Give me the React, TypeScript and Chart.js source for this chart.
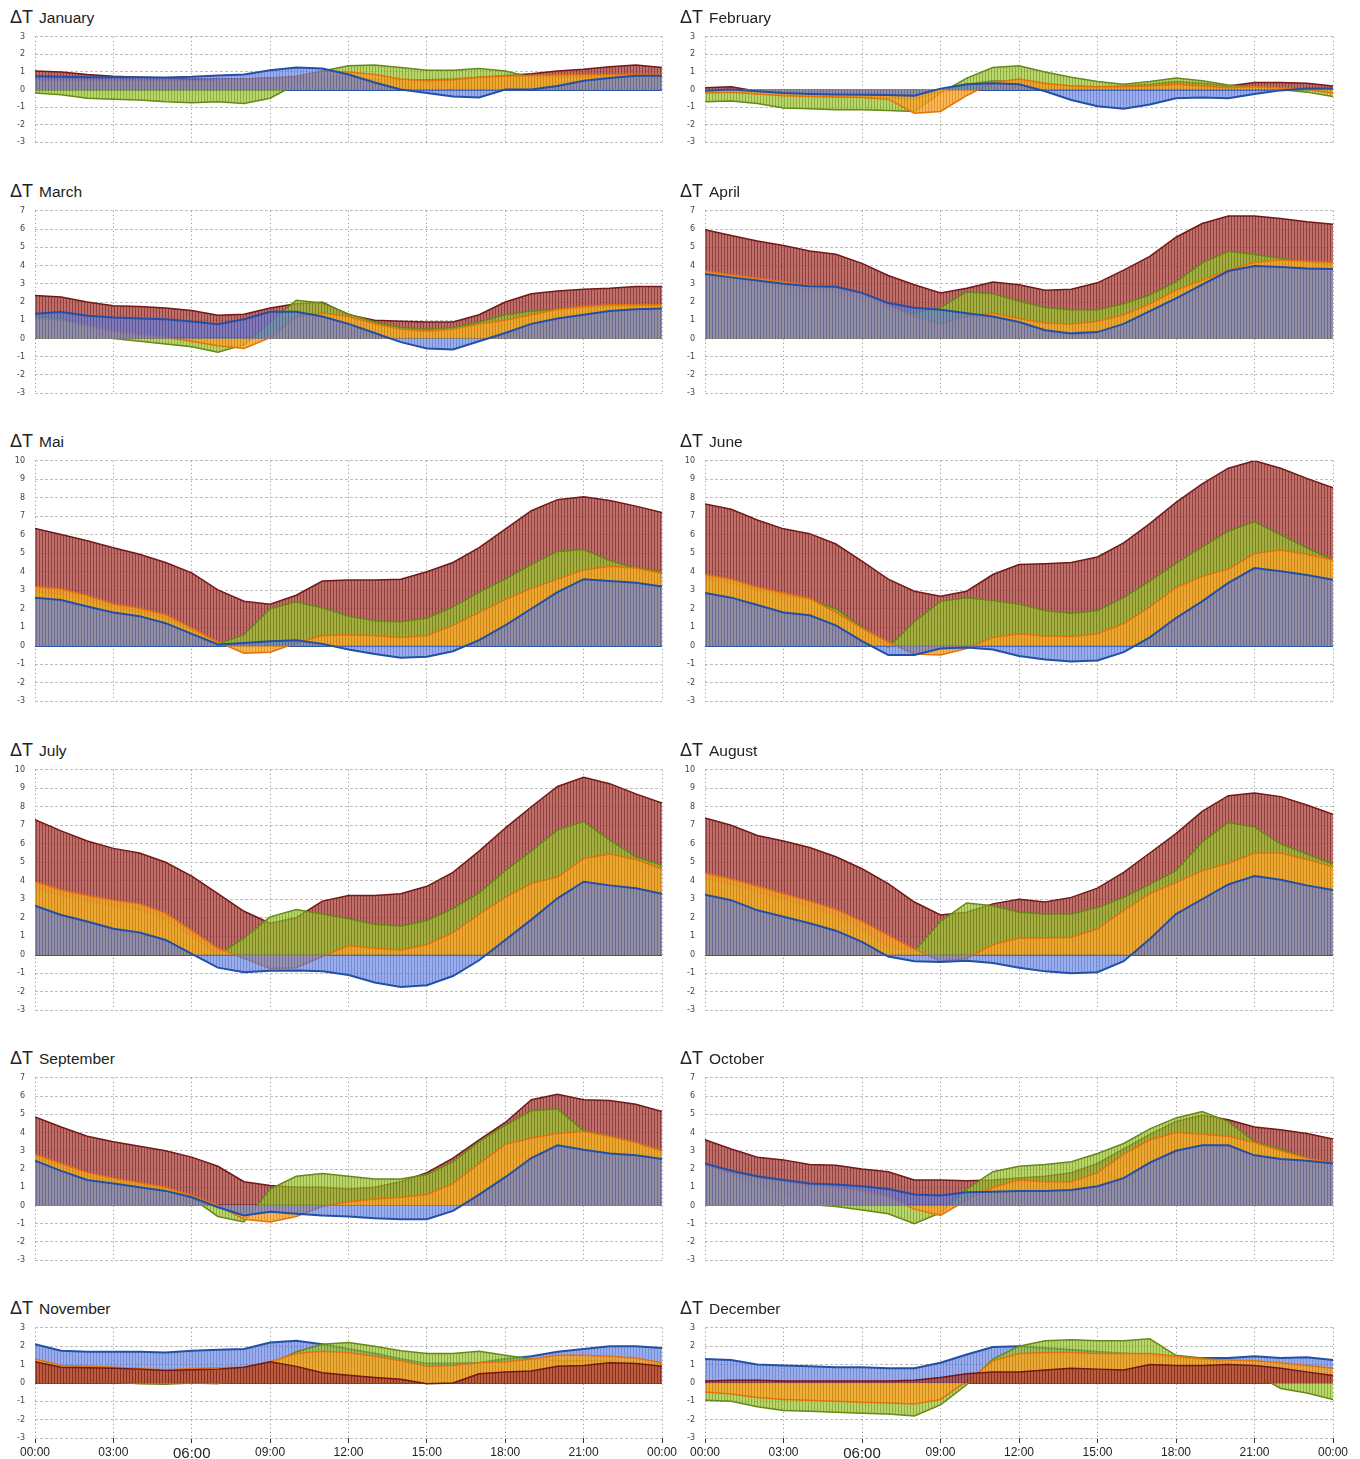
import React, { useEffect, useRef } from "react";
import { Chart, registerables } from "chart.js";

Chart.register(...registerables);

// ---------------- DATA ----------------
const HOURS = [0, 1, 2, 3, 4, 5, 6, 7, 8, 9, 10, 11, 12, 13, 14, 15, 16, 17, 18, 19, 20, 21, 22, 23, 24];
const X_TICK_LABELS = ["00:00", "03:00", "06:00", "09:00", "12:00", "15:00", "18:00", "21:00", "00:00"];
const MONTHS = ["January", "February", "March", "April", "Mai", "June", "July", "August", "September", "October", "November", "December"];
const Y_MAX = [3, 3, 7, 7, 10, 10, 10, 10, 7, 7, 3, 3];
const Y_MIN = -3;

const JAN_RED = [1.05, 1.0, 0.85, 0.75, 0.7, 0.65, 0.6, 0.6, 0.6, 0.65, 0.7, 0.75, 0.7, 0.6, 0.55, 0.55, 0.6, 0.7, 0.8, 0.9, 1.05, 1.15, 1.3, 1.4, 1.25];
const JAN_GREEN = [-0.2, -0.3, -0.5, -0.55, -0.6, -0.7, -0.75, -0.7, -0.8, -0.5, 0.3, 1.05, 1.35, 1.4, 1.25, 1.1, 1.1, 1.2, 1.05, 0.7, 0.7, 0.7, 0.7, 0.7, 0.7];
const JAN_ORANGE = [0.55, 0.5, 0.5, 0.5, 0.5, 0.5, 0.5, 0.55, 0.6, 0.65, 0.75, 1.05, 1.0, 0.85, 0.6, 0.5, 0.55, 0.7, 0.75, 0.8, 0.82, 0.84, 0.85, 0.85, 0.85];
const JAN_BLUE = [0.75, 0.72, 0.7, 0.7, 0.7, 0.68, 0.72, 0.8, 0.85, 1.1, 1.25, 1.2, 0.85, 0.4, 0.0, -0.2, -0.4, -0.45, 0.0, 0.0, 0.2, 0.5, 0.65, 0.78, 0.78];

const FEB_RED = [0.1, 0.15, -0.1, -0.3, -0.38, -0.4, -0.43, -0.45, -0.55, -0.1, 0.3, 0.5, 0.5, 0.3, 0.2, 0.15, 0.2, 0.3, 0.45, 0.35, 0.2, 0.4, 0.4, 0.35, 0.2];
const FEB_GREEN = [-0.7, -0.65, -0.8, -1.05, -1.1, -1.15, -1.15, -1.2, -1.25, -0.2, 0.65, 1.25, 1.35, 1.0, 0.7, 0.45, 0.3, 0.45, 0.65, 0.5, 0.25, 0.15, 0.0, -0.15, -0.4];
const FEB_ORANGE = [-0.2, -0.15, -0.25, -0.35, -0.4, -0.42, -0.45, -0.55, -1.35, -1.25, -0.35, 0.4, 0.6, 0.35, 0.2, 0.15, 0.15, 0.2, 0.3, 0.2, 0.1, 0.15, 0.1, 0.0, -0.2];
const FEB_BLUE = [-0.07, 0.0, -0.1, -0.2, -0.25, -0.28, -0.3, -0.32, -0.35, 0.05, 0.3, 0.35, 0.3, -0.1, -0.6, -0.95, -1.1, -0.85, -0.5, -0.45, -0.5, -0.25, -0.05, 0.05, 0.05];

const MAR_RED = [2.36, 2.28, 2.0, 1.8, 1.75, 1.67, 1.53, 1.28, 1.33, 1.67, 1.9, 1.98, 1.3, 1.0, 0.95, 0.9, 0.9, 1.3, 2.0, 2.45, 2.6, 2.7, 2.75, 2.85, 2.85];
const MAR_GREEN = [1.2, 1.1, 0.6, 0.0, -0.15, -0.3, -0.45, -0.75, -0.35, 0.9, 2.1, 1.95, 1.35, 0.9, 0.6, 0.5, 0.6, 0.9, 1.3, 1.5, 1.6, 1.7, 1.75, 1.8, 1.8];
const MAR_ORANGE = [1.1, 1.0, 0.7, 0.4, 0.2, 0.05, -0.15, -0.4, -0.55, 0.05, 1.2, 1.4, 1.2, 0.8, 0.5, 0.4, 0.5, 0.8, 1.0, 1.3, 1.6, 1.75, 1.85, 1.85, 1.85];
const MAR_BLUE = [1.36, 1.45, 1.24, 1.15, 1.1, 1.05, 0.93, 0.78, 1.05, 1.47, 1.47, 1.2, 0.8, 0.3, -0.2, -0.55, -0.6, -0.15, 0.3, 0.8, 1.1, 1.3, 1.5, 1.6, 1.65];

const APR_RED = [5.96, 5.65, 5.35, 5.1, 4.8, 4.62, 4.12, 3.45, 2.95, 2.5, 2.75, 3.1, 2.95, 2.65, 2.7, 3.05, 3.75, 4.5, 5.55, 6.3, 6.72, 6.72, 6.58, 6.4, 6.26];
const APR_GREEN = [3.4, 3.2, 3.0, 2.8, 2.6, 2.5, 2.2, 1.6, 1.4, 1.7, 2.55, 2.45, 2.05, 1.7, 1.58, 1.58, 1.9, 2.4, 3.1, 4.15, 4.78, 4.6, 4.4, 4.2, 4.0];
const APR_ORANGE = [3.7, 3.5, 3.3, 3.1, 2.9, 2.8, 2.45, 1.8, 1.2, 0.8, 1.2, 1.4, 1.1, 0.85, 0.8, 0.95, 1.3, 1.9, 2.65, 3.2, 3.75, 4.18, 4.3, 4.23, 4.17];
const APR_BLUE = [3.54, 3.35, 3.18, 3.0, 2.86, 2.83, 2.5, 1.95, 1.68, 1.58, 1.38, 1.2, 0.9, 0.45, 0.28, 0.35, 0.8, 1.5, 2.2, 2.95, 3.7, 3.97, 3.92, 3.83, 3.81];

const MAY_RED = [6.34, 6.02, 5.68, 5.3, 4.95, 4.5, 3.94, 3.02, 2.41, 2.24, 2.73, 3.5, 3.55, 3.55, 3.6, 4.0, 4.5, 5.3, 6.3, 7.3, 7.9, 8.05, 7.85, 7.55, 7.2];
const MAY_GREEN = [2.9, 2.8, 2.45, 2.05, 1.85, 1.5, 0.85, 0.1, 0.6, 2.0, 2.37, 2.05, 1.6, 1.35, 1.3, 1.5, 2.1, 2.9, 3.6, 4.4, 5.1, 5.2, 4.6, 4.2, 4.0];
const MAY_ORANGE = [3.2, 3.07, 2.72, 2.26, 2.03, 1.68, 0.95, 0.2, -0.4, -0.35, 0.15, 0.55, 0.6, 0.55, 0.45, 0.55, 1.1, 1.8, 2.5, 3.1, 3.6, 4.1, 4.3, 4.2, 3.9];
const MAY_BLUE = [2.6, 2.47, 2.12, 1.8, 1.6, 1.22, 0.64, 0.07, 0.15, 0.24, 0.3, 0.1, -0.2, -0.45, -0.65, -0.6, -0.3, 0.3, 1.1, 2.0, 2.9, 3.6, 3.5, 3.4, 3.2];

const JUN_RED = [7.67, 7.38, 6.8, 6.32, 6.06, 5.5, 4.57, 3.6, 2.95, 2.68, 2.95, 3.85, 4.39, 4.43, 4.5, 4.8, 5.56, 6.6, 7.75, 8.75, 9.6, 10.0, 9.6, 9.05, 8.54];
const JUN_GREEN = [3.6, 3.4, 3.0, 2.7, 2.5, 2.0, 1.0, -0.1, 1.3, 2.4, 2.6, 2.45, 2.25, 1.9, 1.75, 1.9, 2.6, 3.5, 4.45, 5.35, 6.2, 6.7, 6.0, 5.3, 4.63];
const JUN_ORANGE = [3.85, 3.6, 3.16, 2.85, 2.55, 1.8, 0.95, 0.2, -0.45, -0.5, -0.15, 0.45, 0.65, 0.52, 0.5, 0.65, 1.2, 2.1, 3.15, 3.75, 4.15, 4.98, 5.18, 4.95, 4.63];
const JUN_BLUE = [2.85, 2.6, 2.2, 1.8, 1.65, 1.1, 0.25, -0.5, -0.5, -0.15, -0.1, -0.2, -0.55, -0.75, -0.85, -0.8, -0.35, 0.45, 1.5, 2.4, 3.4, 4.2, 4.03, 3.83, 3.56];

const JUL_RED = [7.3, 6.7, 6.15, 5.75, 5.5, 5.0, 4.25, 3.3, 2.35, 1.7, 2.0, 2.9, 3.2, 3.2, 3.3, 3.7, 4.45, 5.6, 6.85, 8.0, 9.1, 9.6, 9.25, 8.7, 8.2];
const JUL_GREEN = [3.6, 3.2, 2.9, 2.65, 2.45, 1.9, 1.0, 0.0, 0.9, 2.05, 2.45, 2.2, 1.95, 1.65, 1.55, 1.85, 2.5, 3.35, 4.55, 5.6, 6.75, 7.2, 6.2, 5.3, 4.85];
const JUL_ORANGE = [3.95, 3.5, 3.2, 2.95, 2.75, 2.25, 1.3, 0.35, -0.2, -0.75, -0.7, -0.1, 0.5, 0.35, 0.25, 0.55, 1.2, 2.2, 3.1, 3.85, 4.2, 5.2, 5.45, 5.15, 4.65];
const JUL_BLUE = [2.65, 2.15, 1.8, 1.4, 1.2, 0.8, 0.05, -0.7, -0.95, -0.87, -0.85, -0.9, -1.1, -1.5, -1.75, -1.65, -1.15, -0.3, 0.8, 1.9, 3.05, 3.95, 3.75, 3.6, 3.3];

const AUG_RED = [7.4, 7.0, 6.45, 6.15, 5.8, 5.3, 4.65, 3.85, 2.85, 2.15, 2.3, 2.75, 3.0, 2.85, 3.1, 3.6, 4.45, 5.5, 6.55, 7.75, 8.6, 8.75, 8.55, 8.1, 7.6];
const AUG_GREEN = [4.1, 3.8, 3.4, 3.0, 2.6, 2.1, 1.4, 0.4, 0.2, 1.8, 2.8, 2.65, 2.3, 2.2, 2.2, 2.55, 3.1, 3.8, 4.55, 6.1, 7.15, 6.9, 6.0, 5.45, 4.9];
const AUG_ORANGE = [4.4, 4.1, 3.7, 3.3, 2.9, 2.45, 1.8, 1.05, 0.3, -0.35, -0.2, 0.55, 0.9, 0.9, 0.95, 1.4, 2.4, 3.3, 3.9, 4.55, 4.95, 5.5, 5.5, 5.15, 4.75];
const AUG_BLUE = [3.25, 2.95, 2.4, 2.05, 1.7, 1.3, 0.7, -0.1, -0.35, -0.4, -0.33, -0.45, -0.7, -0.9, -1.0, -0.95, -0.35, 0.85, 2.2, 3.0, 3.8, 4.25, 4.05, 3.75, 3.5];

const SEP_RED = [4.85, 4.3, 3.8, 3.5, 3.25, 3.0, 2.65, 2.15, 1.3, 1.1, 1.0, 1.0, 0.9, 1.0, 1.3, 1.8, 2.6, 3.6, 4.55, 5.8, 6.1, 5.8, 5.75, 5.55, 5.15];
const SEP_GREEN = [2.6, 2.1, 1.6, 1.3, 1.1, 0.9, 0.4, -0.6, -0.9, 0.9, 1.6, 1.75, 1.6, 1.45, 1.45, 1.7, 2.4, 3.5, 4.4, 5.2, 5.3, 4.1, 3.8, 3.4, 2.9];
const SEP_ORANGE = [2.8, 2.3, 1.8, 1.5, 1.25, 1.0, 0.55, 0.0, -0.75, -0.9, -0.6, -0.05, 0.2, 0.35, 0.45, 0.6, 1.2, 2.3, 3.35, 3.7, 3.95, 4.05, 3.8, 3.45, 3.0];
const SEP_BLUE = [2.45, 1.9, 1.4, 1.2, 1.0, 0.8, 0.45, -0.1, -0.55, -0.35, -0.45, -0.55, -0.6, -0.7, -0.75, -0.75, -0.3, 0.6, 1.55, 2.6, 3.3, 3.05, 2.85, 2.75, 2.55];

const OCT_RED = [3.6, 3.1, 2.65, 2.5, 2.25, 2.2, 2.0, 1.85, 1.4, 1.4, 1.35, 1.4, 1.5, 1.6, 1.8, 2.3, 3.1, 3.9, 4.6, 4.95, 4.7, 4.3, 4.15, 3.95, 3.65];
const OCT_GREEN = [2.2, 1.7, 1.2, 0.7, 0.05, -0.05, -0.25, -0.45, -1.0, -0.4, 0.9, 1.85, 2.15, 2.25, 2.4, 2.85, 3.4, 4.2, 4.8, 5.15, 4.6, 3.5, 3.1, 2.6, 2.3];
const OCT_ORANGE = [2.2, 1.8, 1.5, 1.3, 1.1, 1.0, 0.8, 0.5, -0.2, -0.55, 0.3, 1.0, 1.4, 1.3, 1.3, 1.8, 2.8, 3.6, 4.0, 3.9, 3.8, 3.45, 3.0, 2.6, 2.3];
const OCT_BLUE = [2.3, 1.9, 1.6, 1.4, 1.2, 1.15, 1.05, 0.9, 0.6, 0.55, 0.72, 0.75, 0.8, 0.8, 0.85, 1.05, 1.5, 2.35, 3.0, 3.3, 3.3, 2.75, 2.55, 2.45, 2.3];

const NOV_RED = [1.15, 0.85, 0.82, 0.8, 0.75, 0.68, 0.72, 0.75, 0.85, 1.15, 0.9, 0.55, 0.42, 0.3, 0.2, -0.05, 0.0, 0.5, 0.6, 0.65, 0.9, 0.95, 1.1, 1.05, 0.9];
const NOV_GREEN = [0.9, 0.4, 0.2, 0.05, -0.05, -0.08, 0.0, -0.05, 0.3, 1.0, 1.7, 2.1, 2.2, 2.0, 1.75, 1.6, 1.6, 1.72, 1.5, 1.3, 1.2, 1.2, 1.2, 1.1, 1.0];
const NOV_ORANGE = [1.3, 0.95, 0.9, 0.85, 0.78, 0.7, 0.78, 0.82, 0.85, 1.15, 1.6, 1.72, 1.65, 1.45, 1.2, 0.9, 0.95, 1.1, 1.15, 1.3, 1.5, 1.5, 1.45, 1.35, 1.1];
const NOV_BLUE = [2.1, 1.75, 1.7, 1.7, 1.7, 1.65, 1.75, 1.8, 1.85, 2.2, 2.3, 2.1, 1.85, 1.6, 1.3, 1.05, 1.05, 1.1, 1.3, 1.45, 1.7, 1.85, 2.0, 2.0, 1.9];

const DEC_RED = [0.1, 0.15, 0.15, 0.1, 0.1, 0.1, 0.1, 0.1, 0.15, 0.3, 0.5, 0.6, 0.6, 0.7, 0.8, 0.75, 0.7, 1.0, 0.95, 0.95, 1.0, 0.95, 0.8, 0.6, 0.4];
const DEC_GREEN = [-0.95, -1.0, -1.3, -1.5, -1.55, -1.6, -1.65, -1.7, -1.8, -1.2, -0.1, 1.3, 2.0, 2.3, 2.35, 2.3, 2.3, 2.4, 1.5, 1.35, 1.05, 0.5, -0.3, -0.55, -0.9];
const DEC_ORANGE = [-0.5, -0.6, -0.8, -0.9, -0.95, -1.0, -1.05, -1.1, -1.15, -0.9, 0.1, 1.2, 1.6, 1.65, 1.65, 1.6, 1.6, 1.6, 1.45, 1.3, 1.25, 1.2, 1.1, 0.95, 0.8];
const DEC_BLUE = [1.3, 1.25, 1.0, 0.95, 0.9, 0.85, 0.85, 0.8, 0.8, 1.1, 1.55, 1.95, 2.0, 1.9, 1.8, 1.7, 1.6, 1.5, 1.35, 1.35, 1.35, 1.45, 1.35, 1.4, 1.25];

const SERIES_RED = [JAN_RED, FEB_RED, MAR_RED, APR_RED, MAY_RED, JUN_RED, JUL_RED, AUG_RED, SEP_RED, OCT_RED, NOV_RED, DEC_RED];
const SERIES_GREEN = [JAN_GREEN, FEB_GREEN, MAR_GREEN, APR_GREEN, MAY_GREEN, JUN_GREEN, JUL_GREEN, AUG_GREEN, SEP_GREEN, OCT_GREEN, NOV_GREEN, DEC_GREEN];
const SERIES_ORANGE = [JAN_ORANGE, FEB_ORANGE, MAR_ORANGE, APR_ORANGE, MAY_ORANGE, JUN_ORANGE, JUL_ORANGE, AUG_ORANGE, SEP_ORANGE, OCT_ORANGE, NOV_ORANGE, DEC_ORANGE];
const SERIES_BLUE = [JAN_BLUE, FEB_BLUE, MAR_BLUE, APR_BLUE, MAY_BLUE, JUN_BLUE, JUL_BLUE, AUG_BLUE, SEP_BLUE, OCT_BLUE, NOV_BLUE, DEC_BLUE];

// ---------------- LAYOUT / STYLE ----------------
const ROW_TOP = [32, 206, 456, 765, 1073, 1323];
const PX_PER_UNIT = 19.2;
const COL_X0 = [35, 705];
const COL_X1 = [662, 1333];
const TITLE_X = [10, 680];
const PAD_LEFT = 5;
const Y_AXIS_W = 30;
const PAD_RIGHT = 20;
const PAD_TOP = 10;
const X_AXIS_H = 20;

const FONT = "'Liberation Sans', Arial, sans-serif";

function makeHatch(base: string, stripe: string): CanvasPattern | string {
  const c = document.createElement("canvas");
  c.width = 3;
  c.height = 4;
  const g = c.getContext("2d");
  if (!g) return base;
  g.fillStyle = base;
  g.fillRect(1, 0, 2, 4);
  g.fillStyle = stripe;
  g.fillRect(0, 0, 1, 4);
  return g.createPattern(c, "repeat") || base;
}

const STYLE = {
  red: { base: "rgba(172,72,64,0.78)", stripe: "rgba(130,32,30,0.86)", line: "#741818", width: 1.5 },
  green: { base: "rgba(160,200,50,0.72)", stripe: "rgba(112,152,22,0.80)", line: "#67891a", width: 1.5 },
  orange: { base: "rgba(246,168,46,0.82)", stripe: "rgba(226,130,20,0.86)", line: "#e2740e", width: 1.5 },
  blue: { base: "rgba(98,128,226,0.64)", stripe: "rgba(66,96,200,0.72)", line: "#2350a6", width: 2 },
};

function Panel({ idx }: { idx: number }) {
  const ref = useRef<HTMLCanvasElement>(null);
  const row = Math.floor(idx / 2);
  const col = idx % 2;
  const isBottom = row === 5;
  const yMax = Y_MAX[idx];
  const plotH = Math.round((yMax - Y_MIN) * PX_PER_UNIT);
  const x0 = COL_X0[col];
  const x1 = COL_X1[col];
  const left = x0 - Y_AXIS_W - PAD_LEFT;
  const width = x1 - x0 + Y_AXIS_W + PAD_LEFT + PAD_RIGHT;
  const top = ROW_TOP[row] - PAD_TOP;
  const padBottom = isBottom ? 0 : 10;
  const height = plotH + PAD_TOP + padBottom + (isBottom ? X_AXIS_H : 0);

  useEffect(() => {
    const canvas = ref.current;
    if (!canvas) return;
    const redTop = row === 5;
    const mk = (key: "red" | "green" | "orange" | "blue", values: number[], order: number) => ({
      label: key,
      data: HOURS.map((h, i) => ({ x: h, y: values[i] })),
      borderColor: STYLE[key].line,
      borderWidth: STYLE[key].width,
      backgroundColor: makeHatch(STYLE[key].base, STYLE[key].stripe),
      fill: "origin",
      pointRadius: 0,
      tension: 0,
      order,
    });
    const datasets = [
      mk("red", SERIES_RED[idx], redTop ? 0 : 3),
      mk("green", SERIES_GREEN[idx], 2),
      mk("orange", SERIES_ORANGE[idx], 1),
      mk("blue", SERIES_BLUE[idx], redTop ? 3 : 0),
    ];
    const chart = new Chart(canvas, {
      type: "line",
      data: { datasets: datasets as any },
      options: {
        animation: false,
        responsive: false,
        events: [],
        layout: { padding: { left: PAD_LEFT, right: PAD_RIGHT, top: PAD_TOP, bottom: padBottom } },
        plugins: {
          legend: { display: false },
          tooltip: { enabled: false },
          title: { display: false },
        },
        scales: {
          x: {
            type: "linear",
            min: 0,
            max: 24,
            afterFit: (s: any) => {
              s.height = isBottom ? X_AXIS_H : 0;
            },
            ticks: {
              display: isBottom,
              stepSize: 3,
              autoSkip: false,
              maxRotation: 0,
              padding: 2,
              color: "#222",
              font: (ctx: any) => ({ family: FONT, size: ctx.index === 2 ? 15 : 12 }),
              callback: (v: any) => X_TICK_LABELS[Math.round(Number(v) / 3)],
            },
            grid: {
              color: "#8a8a8a",
              lineWidth: 1,
              drawTicks: isBottom,
              tickLength: 5,
              tickColor: "#333",
            },
            border: { display: false, dash: [1, 3] },
          },
          y: {
            min: Y_MIN,
            max: yMax,
            afterFit: (s: any) => {
              s.width = Y_AXIS_W;
            },
            ticks: {
              stepSize: 1,
              padding: 10,
              color: "#444",
              font: { family: "'DejaVu Sans', Verdana, sans-serif", size: 8 },
            },
            grid: {
              drawTicks: false,
              color: (c: any) => (c.tick && c.tick.value === 0 ? "#2a55a8" : "#bdbdbd"),
              lineWidth: (c: any) => (c.tick && c.tick.value === 0 ? 2 : 1),
            },
            border: {
              display: false,
              dash: (c: any) => (c.tick && c.tick.value === 0 ? [] : [3, 2]),
            },
          },
        },
      } as any,
    });
    return () => chart.destroy();
  }, [idx]);

  return (
    <>
      <div
        style={{
          position: "absolute",
          left: TITLE_X[col],
          top: ROW_TOP[row] - 25,
          height: 20,
          lineHeight: "20px",
          fontFamily: FONT,
          color: "#222",
          whiteSpace: "nowrap",
        }}
      >
        <span style={{ fontSize: 18 }}>ΔT</span>
        <span style={{ fontSize: 15.5, marginLeft: 6 }}>{MONTHS[idx]}</span>
      </div>
      <canvas
        ref={ref}
        width={width}
        height={height}
        style={{ position: "absolute", left, top, width, height }}
      />
    </>
  );
}

export default function App() {
  return (
    <div
      style={{
        position: "absolute",
        left: 0,
        top: 0,
        width: 1360,
        height: 1459,
        overflow: "hidden",
        background: "#fff",
      }}
    >
      {MONTHS.map((_, i) => (
        <Panel key={i} idx={i} />
      ))}
    </div>
  );
}
